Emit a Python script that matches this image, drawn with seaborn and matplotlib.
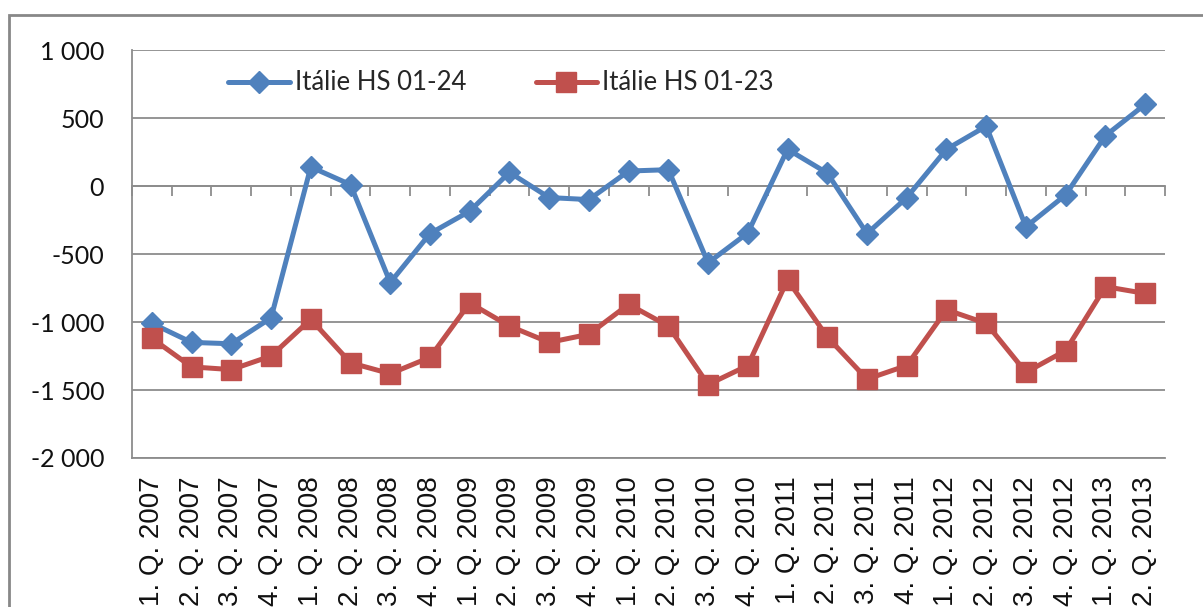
import numpy as np
import seaborn as sns
import matplotlib.pyplot as plt
from matplotlib.patches import Rectangle
from matplotlib.ticker import FuncFormatter

quarters = ['1. Q. 2007', '2. Q. 2007', '3. Q. 2007', '4. Q. 2007',
            '1. Q. 2008', '2. Q. 2008', '3. Q. 2008', '4. Q. 2008',
            '1. Q. 2009', '2. Q. 2009', '3. Q. 2009', '4. Q. 2009',
            '1. Q. 2010', '2. Q. 2010', '3. Q. 2010', '4. Q. 2010',
            '1. Q. 2011', '2. Q. 2011', '3. Q. 2011', '4. Q. 2011',
            '1. Q. 2012', '2. Q. 2012', '3. Q. 2012', '4. Q. 2012',
            '1. Q. 2013', '2. Q. 2013']

# saldo, HS 01-24
italie_01_24 = [-1010, -1150, -1160, -970, 140, 10, -710, -350,
                -185, 100, -85, -100, 110, 120, -565, -345,
                270, 95, -350, -85, 270, 440, -300, -65,
                370, 600]
# saldo, HS 01-23
italie_01_23 = [-1120, -1330, -1350, -1250, -980, -1300, -1380, -1260,
                -860, -1030, -1150, -1090, -870, -1030, -1460, -1320,
                -690, -1110, -1420, -1320, -910, -1010, -1370, -1210,
                -740, -790]

label_24 = 'Itálie HS 01-24'
label_23 = 'Itálie HS 01-23'
yticks = [-2000, -1500, -1000, -500, 0, 500, 1000]

blue = '#4F81BD'
red = '#C0504D'
gray = '#8c8c8c'

sns.set_style('white')
plt.rcParams['font.family'] = ['Lato', 'DejaVu Sans']

fig = plt.figure(figsize=(12.03, 6.07), dpi=100)
ax = fig.add_axes([132 / 1203, 1 - 458 / 607, 1033 / 1203, 408 / 607])

sns.pointplot(x=quarters, y=italie_01_24, ax=ax, color=blue, marker='D',
              markersize=11.5, linewidth=3.6, markeredgewidth=1,
              errorbar=None, label=label_24)
sns.pointplot(x=quarters, y=italie_01_23, ax=ax, color=red, marker='s',
              markersize=15, linewidth=3.6, markeredgewidth=1,
              errorbar=None, label=label_23)

ax.set_ylim(yticks[0], yticks[-1])
ax.set_yticks(yticks)
ax.yaxis.set_major_formatter(FuncFormatter(lambda v, p: f"{int(v):,}".replace(',', ' ')))
ax.yaxis.grid(True, color=gray, lw=1.3)
ax.xaxis.grid(False)
ax.set_axisbelow(True)
ax.set_xlabel('')
ax.set_ylabel('')

for s in ['top', 'right']:
    ax.spines[s].set_visible(False)
for s in ['left', 'bottom']:
    ax.spines[s].set_color(gray)
    ax.spines[s].set_linewidth(1.3)

ax.tick_params(axis='y', length=7, width=1.3, color=gray, direction='out',
               pad=13, labelsize=18, labelcolor='#111111')
ax.set_xticks(range(len(quarters)), labels=quarters, rotation=90,
              fontsize=20, family='Liberation Sans', color='#111111')
ax.tick_params(axis='x', length=0, pad=13)

# horizontal axis line crossing at 0, with category tick marks
sec = ax.secondary_xaxis(0, transform=ax.transData)
sec.set_ticks(np.arange(len(quarters) + 1) - 0.5)
sec.tick_params(length=7, width=1.3, color=gray, direction='out',
                labelbottom=False, labeltop=False)
for s in sec.spines.values():
    s.set_color(gray)
    s.set_linewidth(1.3)

ax.legend(loc='center left', bbox_to_anchor=((228 - 132) / 1033, (458 - 83) / 408),
          ncol=2, frameon=False, fontsize=18.5, handlelength=2.4,
          handletextpad=0.2, columnspacing=2.7, borderaxespad=0, borderpad=0)

# outer chart frame
fig.add_artist(Rectangle((9 / 1203, -0.05), 1.1, 1.05 - 15 / 607,
                         transform=fig.transFigure, fill=False,
                         edgecolor='#888888', lw=2))

fig.savefig('out.png', dpi=100)
